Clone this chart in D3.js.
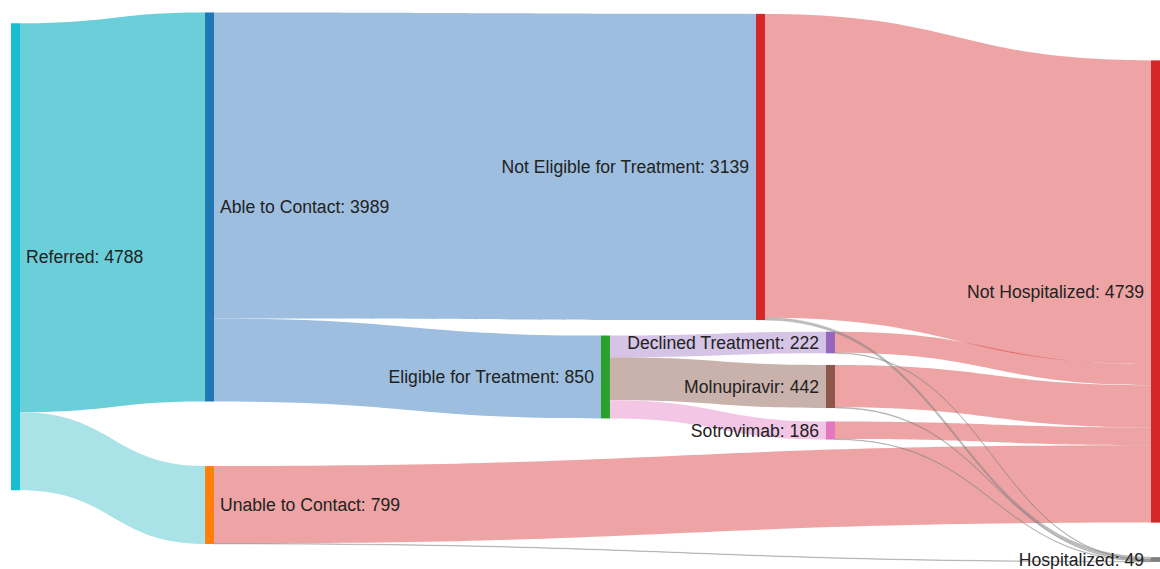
<!DOCTYPE html>
<html>
<head>
<meta charset="utf-8">
<script src="https://cdn.jsdelivr.net/npm/d3@7"></script>
<style>
  html, body { margin: 0; padding: 0; background: #fff; }
  svg { display: block; }
</style>
</head>
<body>
<div id="main-chart"></div>
<script>
const width = 1160;
const height = 569;
const margin = { left: 11, right: 0, top: 12, bottom: 7 };
const nodeWidth = 9;

// nodes (x / y are arrangement fractions, like plotly node.x / node.y)
const nodeNames = [
  "Referred",
  "Able to Contact",
  "Unable to Contact",
  "Not Eligible for Treatment",
  "Eligible for Treatment",
  "Declined Treatment",
  "Molnupiravir",
  "Sotrovimab",
  "Not Hospitalized",
  "Hospitalized",
];
const nodeColors = [
  "#17becf", "#1f77b4", "#ff7f0e", "#d62728", "#2ca02c",
  "#9467bd", "#8c564b", "#e377c2", "#d62728", "#7f7f7f",
];
const nodeX = [0, 0.1702, 0.1702, 0.6535, 0.5175, 0.7149, 0.7149, 0.7149, 1, 1];
const nodeY = [0.445, 0.3545, 0.8964, 0.2818, 0.6636, 0.6009, 0.6809, 0.7609, 0.5082, 0.9955];

// links
const linkSource = [0, 0, 1, 1, 2, 3, 4, 4, 4, 5, 6, 7, 2, 3, 5, 6, 7];
const linkTarget = [1, 2, 3, 4, 8, 8, 5, 6, 7, 8, 8, 8, 9, 9, 9, 9, 9];
const linkValue = [3989, 799, 3139, 850, 794, 3114, 222, 442, 186, 216, 434, 181, 5, 25, 6, 8, 5];
const red = "rgba(214,39,40,0.42)";
const gray = "rgba(127,127,127,0.5)";
const linkColors = [
  "#6bcfd9", "#a9e2e7", "#9dbedf", "#9dbedf", red, red,
  "#d5c4e6", "#c9b2ab", "#f2c6e4", red, red, red,
  gray, gray, gray, gray, gray,
];

const nodes = nodeNames.map((name, i) => ({
  name,
  color: nodeColors[i],
  fx: nodeX[i],
  fy: nodeY[i],
  out: [],
  in: [],
}));

const links = linkValue.map((value, i) => ({
  source: nodes[linkSource[i]],
  target: nodes[linkTarget[i]],
  value,
  color: linkColors[i],
}));

links.forEach((l) => {
  l.source.out.push(l);
  l.target.in.push(l);
});

nodes.forEach((n) => {
  n.value = Math.max(d3.sum(n.out, (l) => l.value), d3.sum(n.in, (l) => l.value));
});

const xScale = d3
  .scaleLinear()
  .domain([0, 1])
  .range([margin.left, width - margin.right - nodeWidth]);

const yScale = d3
  .scaleLinear()
  .domain([0, 1])
  .range([margin.top, height - margin.bottom]);

const valueScale = d3
  .scaleLinear()
  .domain([0, d3.max(nodes, (n) => n.value)])
  .range([0, 467]);

nodes.forEach((n) => {
  const h = valueScale(n.value);
  n.x0 = xScale(n.fx);
  n.x1 = n.x0 + nodeWidth;
  n.y0 = yScale(n.fy) - h / 2;
  n.y1 = n.y0 + h;
});

// stack link ends inside their nodes, ordered by the other end's position
nodes.forEach((n) => {
  let sy = n.y0;
  n.out
    .sort((a, b) => yScale(a.target.fy) - yScale(b.target.fy))
    .forEach((l) => {
      l.sy0 = sy;
      sy += valueScale(l.value);
      l.sy1 = sy;
    });
  let ty = n.y0;
  n.in
    .sort((a, b) => yScale(a.source.fy) - yScale(b.source.fy))
    .forEach((l) => {
      l.ty0 = ty;
      ty += valueScale(l.value);
      l.ty1 = ty;
    });
});

const linkPath = (l) => {
  const x0 = l.source.x1;
  const x1 = l.target.x0;
  const xm = (x0 + x1) / 2;
  const p = d3.path();
  p.moveTo(x0, l.sy0);
  p.bezierCurveTo(xm, l.sy0, xm, l.ty0, x1, l.ty0);
  p.lineTo(x1, l.ty1);
  p.bezierCurveTo(xm, l.ty1, xm, l.sy1, x0, l.sy1);
  p.closePath();
  return p.toString();
};

const svg = d3
  .select("#main-chart")
  .append("svg")
  .attr("width", width)
  .attr("height", height);

svg
  .append("rect")
  .attr("width", width)
  .attr("height", height)
  .attr("fill", "#fff");

svg
  .append("g")
  .attr("class", "links")
  .selectAll("path")
  .data(links)
  .join("path")
  .attr("d", linkPath)
  .attr("fill", (d) => d.color)
  .attr("stroke", (d) => (d.target.name === "Hospitalized" ? gray : "none"))
  .attr("stroke-width", 0.6);

svg
  .append("g")
  .attr("class", "nodes")
  .selectAll("rect")
  .data(nodes)
  .join("rect")
  .attr("x", (d) => d.x0)
  .attr("y", (d) => d.y0)
  .attr("width", nodeWidth)
  .attr("height", (d) => Math.max(d.y1 - d.y0, 3))
  .attr("fill", (d) => d.color);

svg
  .append("g")
  .attr("class", "labels")
  .style("font-family", "Helvetica, Arial, 'Liberation Sans', sans-serif")
  .style("font-size", "17.6px")
  .attr("fill", "#222")
  .selectAll("text")
  .data(nodes)
  .join("text")
  .attr("x", (d) => (d.x0 < width / 2 ? d.x1 + 6 : d.x0 - 7))
  .attr("y", (d) => (d.y0 + d.y1) / 2)
  .attr("dy", "0.35em")
  .attr("text-anchor", (d) => (d.x0 < width / 2 ? "start" : "end"))
  .text((d) => `${d.name}: ${d.value}`);
</script>
</body>
</html>
